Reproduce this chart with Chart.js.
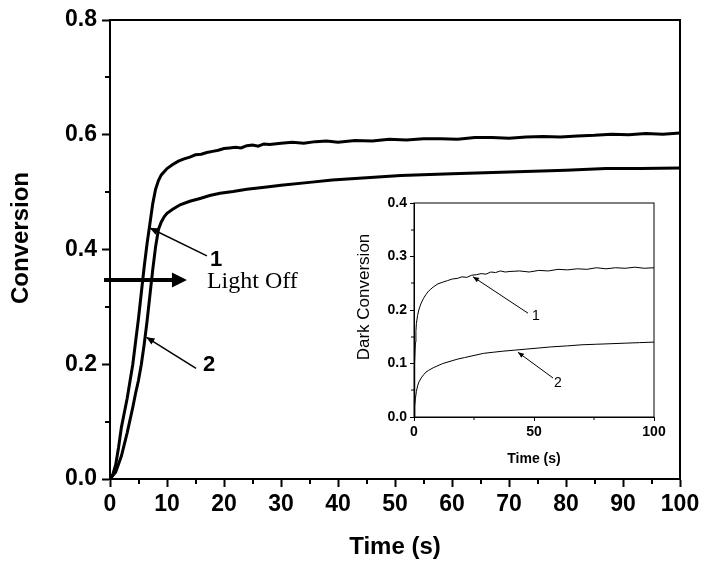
<!DOCTYPE html>
<html><head><meta charset="utf-8">
<script src="https://cdn.jsdelivr.net/npm/chart.js@4.4.0/dist/chart.umd.min.js"></script>
<style>
html,body{margin:0;padding:0;background:#fff;}
#wrap{position:relative;width:708px;height:570px;background:#fff;}
#main{position:absolute;left:0;top:0;}
#inset{position:absolute;left:340px;top:190px;}
</style></head><body>
<div id="wrap"><canvas id="main" width="708" height="570"></canvas><canvas id="inset" width="330" height="285"></canvas></div>
<script>
// ---------- Main chart data ----------
const time1 = [0,0.5,1,1.5,2,2.5,3,3.5,4,4.5,5,5.5,6,6.5,7,7.5,8,8.5,9,10,11,12,13,14,15,16,17,18,19,20,21,22,23,24,25,26,27,28,30,32,34,36,38,40,43,46,49,52,55,58,61,64,67,70,73,76,79,82,85,88,91,94,97,100];
const conv1 = [0,0.008,0.025,0.055,0.09,0.115,0.14,0.17,0.2,0.24,0.28,0.325,0.37,0.41,0.445,0.48,0.505,0.52,0.53,0.541,0.548,0.554,0.558,0.561,0.565,0.566,0.569,0.571,0.573,0.576,0.577,0.578,0.577,0.581,0.582,0.580,0.584,0.583,0.585,0.587,0.585,0.588,0.589,0.587,0.590,0.589,0.592,0.591,0.593,0.593,0.592,0.595,0.595,0.594,0.596,0.597,0.596,0.598,0.599,0.601,0.600,0.602,0.601,0.603];
const time2 = [0,1,2,3,4,4.5,5,5.5,6,6.5,7,7.5,8,8.5,9,9.5,10,11,12.3,14,15.8,17.5,19.3,21.6,24,27.5,30,35,39,45,51,60,70,80,87,93,100];
const conv2 = [0,0.012,0.04,0.08,0.125,0.15,0.172,0.2,0.235,0.275,0.32,0.365,0.405,0.435,0.448,0.457,0.463,0.47,0.478,0.484,0.489,0.494,0.498,0.501,0.505,0.509,0.512,0.517,0.521,0.525,0.529,0.532,0.535,0.538,0.541,0.541,0.542];
const mainXTicks = [0,10,20,30,40,50,60,70,80,90,100];
const mainYTicks = [0.0,0.2,0.4,0.6,0.8];
const mainXMinor = [5,15,25,35,45,55,65,75,85,95];
const mainYMinor = [0.1,0.3,0.5,0.7];

// ---------- Inset data ----------
const darkTime1 = [0,0.2,0.4,0.6,0.8,1,1.5,2,2.5,3,4,5,6,7,8,10,12,14,16,18,20,22,24,26,28,30,32,34,36,38,40,44,48,52,56,60,64,68,72,76,80,84,88,92,96,100];
const darkConv1 = [0,0.05,0.10,0.14,0.16,0.175,0.19,0.20,0.207,0.213,0.222,0.229,0.235,0.239,0.243,0.249,0.252,0.255,0.258,0.259,0.262,0.261,0.265,0.266,0.268,0.267,0.271,0.270,0.273,0.271,0.272,0.273,0.271,0.274,0.273,0.276,0.275,0.277,0.276,0.279,0.277,0.279,0.278,0.280,0.278,0.279];
const darkTime2 = [0,0.3,0.6,1,1.5,2,3,4,5,6,8,10,12,15,18,21,25,29,33,37,42,47,52,57,64,70,76,82,88,94,100];
const darkConv2 = [0,0.02,0.035,0.048,0.058,0.065,0.073,0.079,0.084,0.087,0.092,0.096,0.100,0.104,0.108,0.111,0.115,0.119,0.121,0.123,0.125,0.127,0.129,0.131,0.133,0.135,0.136,0.137,0.138,0.139,0.140];
const insetXMinor = [25,75];
const insetYMinor = [0.05,0.15,0.25,0.35];

// ---------- Annotations (data coordinates) ----------
const mainLabels = [{text:'1', t:18.6, v:0.382}, {text:'2', t:17.4, v:0.199}];
const mainPointers = [{from:[17.0,0.389], to:[7.0,0.4375]}, {from:[15.1,0.193], to:[6.4,0.247]}];
const lightOff = {from:[-1.05,0.347], to:[13.5,0.347], text:'Light Off', textT:17.0, textV:0.333};
const insetLabels = [{text:'1', t:50.8, v:0.189}, {text:'2', t:60.0, v:0.064}];
const insetPointers = [{from:[47.5,0.194], to:[24.6,0.262]}, {from:[57.9,0.073], to:[43.3,0.121]}];

const SANS = "'Liberation Sans', Arial, Helvetica, sans-serif";
Chart.defaults.font.family = SANS;
Chart.defaults.color = '#000';

function pts(xs, ys){ return xs.map((x,i)=>({x:x, y:ys[i]})); }

function arrowHead(ctx, x0, y0, x1, y1, len, half){
  const a = Math.atan2(y1-y0, x1-x0);
  ctx.beginPath();
  ctx.moveTo(x1, y1);
  ctx.lineTo(x1 - len*Math.cos(a) + half*Math.sin(a), y1 - len*Math.sin(a) - half*Math.cos(a));
  ctx.lineTo(x1 - len*Math.cos(a) - half*Math.sin(a), y1 - len*Math.sin(a) + half*Math.cos(a));
  ctx.closePath();
  ctx.fill();
}

function makePlugin(cfg){
  return {
    id: 'deco',
    afterDraw(chart){
      const ctx = chart.ctx, a = chart.chartArea, sx = chart.scales.x, sy = chart.scales.y;
      ctx.save();
      ctx.strokeStyle = '#000'; ctx.fillStyle = '#000';
      ctx.lineWidth = cfg.frameW;
      ctx.strokeRect(a.left, a.top, a.right - a.left, a.bottom - a.top);
      ctx.lineWidth = cfg.tickW;
      ctx.beginPath();
      cfg.yMinor.forEach(v => { const y = Math.round(sy.getPixelForValue(v)); ctx.moveTo(a.left - cfg.minorLen, y); ctx.lineTo(a.left, y); });
      cfg.xMinor.forEach(t => { const x = Math.round(sx.getPixelForValue(t)); ctx.moveTo(x, a.bottom); ctx.lineTo(x, a.bottom + cfg.minorLen); });
      ctx.stroke();
      cfg.pointers.forEach(p => {
        const x0 = sx.getPixelForValue(p.from[0]), y0 = sy.getPixelForValue(p.from[1]);
        const x1 = sx.getPixelForValue(p.to[0]), y1 = sy.getPixelForValue(p.to[1]);
        ctx.lineWidth = cfg.ptrW;
        ctx.beginPath(); ctx.moveTo(x0, y0); ctx.lineTo(x1, y1); ctx.stroke();
        arrowHead(ctx, x0, y0, x1, y1, cfg.headLen, cfg.headHalf);
      });
      ctx.font = cfg.labelFont; ctx.textAlign = 'center'; ctx.textBaseline = 'middle';
      cfg.labels.forEach(l => ctx.fillText(l.text, sx.getPixelForValue(l.t), sy.getPixelForValue(l.v)));
      if (cfg.light){
        const L = cfg.light;
        const x0 = sx.getPixelForValue(L.from[0]), y0 = Math.round(sy.getPixelForValue(L.from[1]));
        const x1 = sx.getPixelForValue(L.to[0]);
        ctx.lineWidth = 4;
        ctx.beginPath(); ctx.moveTo(x0, y0); ctx.lineTo(x1 - 10, y0); ctx.stroke();
        arrowHead(ctx, x0, y0, x1, y0, 15, 7.5);
        ctx.font = "24px 'Liberation Serif', 'Times New Roman', serif";
        ctx.textAlign = 'left'; ctx.textBaseline = 'alphabetic';
        ctx.fillText(L.text, sx.getPixelForValue(L.textT), sy.getPixelForValue(L.textV));
      }
      ctx.font = cfg.yTitleFont; ctx.textAlign = 'center'; ctx.textBaseline = 'middle';
      ctx.translate(cfg.yTitleX, cfg.yTitleY); ctx.rotate(-Math.PI/2);
      ctx.fillText(cfg.yTitle, 0, 0);
      ctx.restore();
    }
  };
}

// ---------- Main chart ----------
new Chart(document.getElementById('main'), {
  type: 'line',
  data: { datasets: [
    { label: '1', data: pts(time1, conv1), borderColor: '#000', borderWidth: 3, pointRadius: 0, tension: 0, fill: false },
    { label: '2', data: pts(time2, conv2), borderColor: '#000', borderWidth: 3, pointRadius: 0, tension: 0, fill: false }
  ]},
  options: {
    responsive: false, animation: false, devicePixelRatio: 1,
    layout: { padding: { top: 20, right: 28, left: 0, bottom: 0 } },
    plugins: { legend: { display: false }, tooltip: { enabled: false } },
    scales: {
      x: {
        type: 'linear', min: 0, max: 100,
        afterBuildTicks: s => { s.ticks = mainXTicks.map(v => ({value: v})); },
        afterFit: s => { s.height = 91; },
        ticks: { font: { size: 23, weight: 'bold' }, padding: 4, maxRotation: 0, autoSkip: false, color: '#000' },
        grid: { drawOnChartArea: false, drawTicks: true, tickLength: 8, tickWidth: 2, tickColor: '#000' },
        border: { display: true, color: '#000', width: 2 },
        title: { display: true, text: 'Time (s)', font: { size: 24, weight: 'bold' }, color: '#000', padding: { top: 0, bottom: 8 } }
      },
      y: {
        type: 'linear', min: 0, max: 0.8,
        afterBuildTicks: s => { s.ticks = mainYTicks.map(v => ({value: v})); },
        afterFit: s => { s.width = 110; },
        ticks: { font: { size: 23, weight: 'bold' }, padding: 5, color: '#000', callback: v => Number(v).toFixed(1) },
        grid: { drawOnChartArea: false, drawTicks: true, tickLength: 8, tickWidth: 2, tickColor: '#000' },
        border: { display: true, color: '#000', width: 2 }
      }
    }
  },
  plugins: [makePlugin({
    frameW: 2, tickW: 2, minorLen: 5, yMinor: mainYMinor, xMinor: mainXMinor,
    pointers: mainPointers, ptrW: 1.5, headLen: 8, headHalf: 3.5,
    labels: mainLabels, labelFont: "bold 22px " + SANS,
    light: lightOff,
    yTitle: 'Conversion', yTitleFont: "bold 24px " + SANS, yTitleX: 21, yTitleY: 238
  })]
});

// ---------- Inset chart ----------
new Chart(document.getElementById('inset'), {
  type: 'line',
  data: { datasets: [
    { label: '1', data: pts(darkTime1, darkConv1), borderColor: '#000', borderWidth: 1, pointRadius: 0, tension: 0, fill: false },
    { label: '2', data: pts(darkTime2, darkConv2), borderColor: '#000', borderWidth: 1, pointRadius: 0, tension: 0, fill: false }
  ]},
  options: {
    responsive: false, animation: false, devicePixelRatio: 1,
    layout: { padding: { top: 13, right: 16, left: 0, bottom: 0 } },
    plugins: { legend: { display: false }, tooltip: { enabled: false } },
    scales: {
      x: {
        type: 'linear', min: 0, max: 100,
        ticks: { stepSize: 50, font: { size: 14, weight: 'bold' }, padding: 3, maxRotation: 0, color: '#000' },
        afterFit: s => { s.height = 58; },
        grid: { drawOnChartArea: false, drawTicks: true, tickLength: 4, tickWidth: 1, tickColor: '#000' },
        border: { display: true, color: '#000', width: 1 },
        title: { display: true, text: 'Time (s)', font: { size: 14, weight: 'bold' }, color: '#000', padding: { top: 0, bottom: 7 } }
      },
      y: {
        type: 'linear', min: 0, max: 0.4,
        ticks: { stepSize: 0.1, font: { size: 14, weight: 'bold' }, padding: 3, color: '#000', callback: v => Number(v).toFixed(1) },
        afterFit: s => { s.width = 74; },
        grid: { drawOnChartArea: false, drawTicks: true, tickLength: 4, tickWidth: 1, tickColor: '#000' },
        border: { display: true, color: '#000', width: 1 }
      }
    }
  },
  plugins: [makePlugin({
    frameW: 1, tickW: 1, minorLen: 3, yMinor: insetYMinor, xMinor: insetXMinor,
    pointers: insetPointers, ptrW: 1, headLen: 6, headHalf: 2.5,
    labels: insetLabels, labelFont: "14px " + SANS,
    light: null,
    yTitle: 'Dark Conversion', yTitleFont: "17px " + SANS, yTitleX: 24, yTitleY: 107
  })]
});
</script>
</body></html>
